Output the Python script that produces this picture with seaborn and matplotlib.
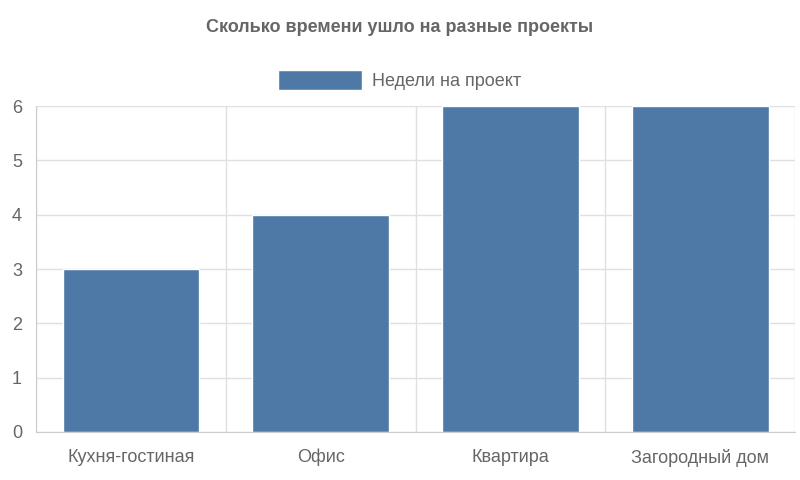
import matplotlib
matplotlib.use("Agg")
import matplotlib.pyplot as plt
import seaborn as sns
import pandas as pd
from matplotlib.patches import Patch

categories = ["Кухня-гостиная", "Офис", "Квартира", "Загородный дом"]
weeks = [3, 4, 6, 6]
series_name = "Недели на проект"
yticks = [0, 1, 2, 3, 4, 5, 6]

sns.set_style("white")
plt.rcParams['font.family'] = ['Liberation Sans', 'DejaVu Sans']

df = pd.DataFrame({"cat": categories, "val": weeks})
fig = plt.figure(figsize=(8, 4.8), dpi=100)
ax = fig.add_axes([0.045, 0.1, 0.949, 0.679])
color = "#4E79A7"
sns.barplot(data=df, x="cat", y="val", color=color, width=0.72, saturation=1, ax=ax)

ax.set_ylim(0, 6)
ax.set_xlim(-0.5, len(categories) - 0.5)
ax.set_yticks(yticks)
ax.set_xlabel("")
ax.set_ylabel("")
for b in [i - 0.5 for i in range(len(categories) + 1)]:
    ax.axvline(b, color="#e0e0e0", lw=1, zorder=0)
ax.set_axisbelow(True)
ax.yaxis.grid(True, color="#e0e0e0", lw=1)
for s in ["top", "right"]:
    ax.spines[s].set_visible(False)
ax.spines["left"].set_color("#cccccc")
ax.spines["bottom"].set_color("#cccccc")
ax.tick_params(axis="y", labelsize=13, labelcolor="#666666", length=6, color="#e0e0e0", pad=4)
ax.tick_params(axis="x", labelsize=13, labelcolor="#666666", length=0, pad=12)
# x minor ticks at boundaries
ax.set_xticks([i - 0.5 for i in range(len(categories) + 1)], minor=True)
ax.tick_params(axis="x", which="minor", length=12, color="#cccccc")

fig.text(0.5, 0.942, "Сколько времени ушло на разные проекты", ha="center", va="center",
         fontsize=13, fontweight="bold", color="#666666")
fig.legend(handles=[Patch(facecolor=color, label=series_name)], loc="center",
           bbox_to_anchor=(0.5, 0.833), frameon=False, fontsize=13, labelcolor="#666666",
           handlelength=4.6, handleheight=1.3, handletextpad=0.6)

fig.savefig("out.png", dpi=100)
